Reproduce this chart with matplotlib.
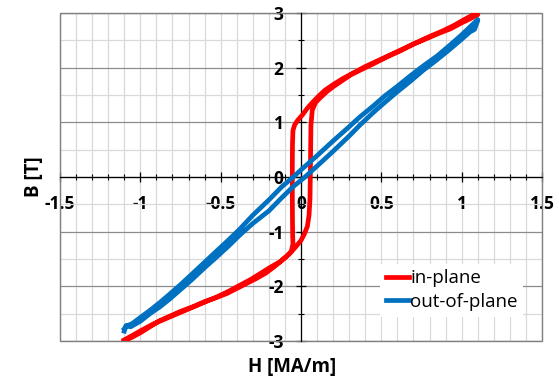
import matplotlib as mpl
mpl.use('Agg')
import matplotlib.pyplot as plt
from matplotlib.patches import Rectangle
from matplotlib.ticker import MultipleLocator, FuncFormatter

plt.rcParams['font.family'] = ['Open Sans', 'DejaVu Sans']
plt.rcParams['font.weight'] = 'bold'
plt.rcParams['axes.unicode_minus'] = False

RED = '#ff0000'
BLUE = '#0070c0'

# in-plane loop, H rising
inplane_up_h = [-1.10, -1.05, -1.00, -0.94, -0.88, -0.82, -0.75, -0.67, -0.60,
                -0.53, -0.46, -0.40, -0.34, -0.28, -0.22, -0.17, -0.12, -0.07,
                -0.03, 0.00, 0.02, 0.04, 0.05, 0.056, 0.058, 0.06, 0.062, 0.07,
                0.09, 0.12, 0.16, 0.20, 0.25, 0.31, 0.38, 0.45, 0.53, 0.62,
                0.70, 0.78, 0.86, 0.93, 1.00, 1.05, 1.10]
inplane_up_b = [-3.00, -2.93, -2.85, -2.74, -2.63, -2.55, -2.46, -2.37, -2.28,
                -2.21, -2.13, -2.04, -1.95, -1.86, -1.76, -1.65, -1.53, -1.40,
                -1.27, -1.16, -1.05, -0.90, -0.70, -0.40, 0.00, 0.50, 0.95, 1.22,
                1.36, 1.45, 1.56, 1.65, 1.75, 1.87, 1.97, 2.07, 2.19, 2.31,
                2.43, 2.53, 2.63, 2.71, 2.82, 2.89, 2.97]
# in-plane loop, H falling
inplane_down_h = [1.10, 1.06, 1.01, 0.95, 0.88, 0.80, 0.72, 0.64, 0.56, 0.48,
                  0.40, 0.33, 0.26, 0.20, 0.15, 0.11, 0.07, 0.04, 0.01, -0.02,
                  -0.04, -0.05, -0.053, -0.054, -0.054, -0.053, -0.052, -0.05,
                  -0.06, -0.09, -0.13, -0.19, -0.25, -0.31, -0.38, -0.45, -0.52,
                  -0.60, -0.68, -0.76, -0.84, -0.92, -0.99, -1.05, -1.10]
inplane_down_b = [3.00, 2.95, 2.87, 2.77, 2.67, 2.57, 2.46, 2.35, 2.24, 2.13,
                  2.02, 1.91, 1.80, 1.69, 1.59, 1.48, 1.36, 1.26, 1.14, 1.04,
                  0.95, 0.85, 0.60, 0.20, -0.30, -0.80, -1.05, -1.22, -1.36,
                  -1.45, -1.55, -1.65, -1.76, -1.87, -1.98, -2.09, -2.19, -2.29,
                  -2.39, -2.49, -2.59, -2.69, -2.80, -2.90, -2.98]

# out-of-plane loop, H rising
outplane_up_h = [-1.10, -1.09, -1.06, -1.00, -0.94, -0.88, -0.82, -0.75, -0.68,
                 -0.60, -0.52, -0.45, -0.38, -0.30, -0.20, -0.12, -0.05, 0.025,
                 0.10, 0.20, 0.30, 0.367, 0.45, 0.52, 0.60, 0.68, 0.76, 0.84,
                 0.92, 1.00, 1.05, 1.08, 1.10]
outplane_up_b = [-2.82, -2.72, -2.74, -2.64, -2.50, -2.38, -2.24, -2.06, -1.88,
                 -1.66, -1.45, -1.26, -1.06, -0.85, -0.62, -0.38, -0.18, 0.00,
                 0.20, 0.47, 0.75, 0.95, 1.18, 1.36, 1.56, 1.75, 1.95, 2.13,
                 2.32, 2.52, 2.65, 2.70, 2.86]
# out-of-plane loop, H falling
outplane_down_h = [1.10, 1.05, 1.00, 0.93, 0.85, 0.76, 0.68, 0.60, 0.52, 0.45,
                   0.367, 0.30, 0.20, 0.10, 0.00, -0.048, -0.12, -0.20, -0.30,
                   -0.38, -0.45, -0.52, -0.60, -0.68, -0.75, -0.82, -0.88,
                   -0.94, -1.00, -1.05, -1.08, -1.10]
outplane_down_b = [2.88, 2.74, 2.60, 2.42, 2.22, 2.03, 1.85, 1.66, 1.48, 1.30,
                   1.10, 0.92, 0.66, 0.39, 0.13, 0.00, -0.18, -0.42, -0.70,
                   -0.95, -1.15, -1.34, -1.56, -1.78, -1.97, -2.15, -2.30,
                   -2.44, -2.57, -2.68, -2.72, -2.78]

x_ticks = [-1.5, -1, -0.5, 0, 0.5, 1, 1.5]
y_ticks = [-3, -2, -1, 0, 1, 2, 3]

fig = plt.figure(figsize=(5.59, 3.79), dpi=100)
ax = fig.add_axes([0.1073, 0.1003, 0.8623, 0.8654])

ax.set_xlim(x_ticks[0], x_ticks[-1])
ax.set_ylim(y_ticks[0], y_ticks[-1])
ax.set_xticks(x_ticks)
ax.set_yticks(y_ticks)
ax.xaxis.set_minor_locator(MultipleLocator(0.1))
ax.yaxis.set_minor_locator(MultipleLocator(0.5))
ax.xaxis.set_major_formatter(FuncFormatter(lambda v, p: '%g' % v))
ax.yaxis.set_major_formatter(FuncFormatter(lambda v, p: '%g' % v))

# grid: light verticals every 0.1, darker horizontals on integers
ax.grid(True, axis='x', which='both', color='#d9d9d9', lw=0.9)
ax.grid(True, axis='y', which='minor', color='#d9d9d9', lw=0.9)
ax.grid(True, axis='y', which='major', color='#8c8c8c', lw=0.9)
ax.set_axisbelow(True)

# axes cross at the origin
for side in ('top', 'right'):
    ax.spines[side].set_visible(False)
for side in ('left', 'bottom'):
    ax.spines[side].set_position(('data', 0))
    ax.spines[side].set_color('#000000')
    ax.spines[side].set_linewidth(0.9)
ax.add_patch(Rectangle((0, 0), 1, 1, transform=ax.transAxes, fill=False,
                       edgecolor='#7f7f7f', lw=1.0, zorder=2.4, clip_on=False))

ax.tick_params(which='major', direction='inout', length=7, width=0.9,
               labelsize=12.5)
ax.tick_params(which='minor', direction='inout', length=5, width=0.8)
ax.tick_params(axis='x', which='major', pad=9.5)
ax.tick_params(axis='y', which='major', pad=9.0)

ax.plot(inplane_up_h + inplane_down_h, inplane_up_b + inplane_down_b,
        color=RED, lw=3.4, zorder=3, label='in-plane',
        solid_joinstyle='round')
ax.plot(outplane_up_h + outplane_down_h, outplane_up_b + outplane_down_b,
        color=BLUE, lw=3.4, zorder=3, label='out-of-plane',
        solid_joinstyle='round')

fig.text(0.523, 0.032, 'H [MA/m]', ha='center', va='center', fontsize=13.5)
fig.text(0.061, 0.533, 'B [T]', ha='center', va='center', rotation=90,
         fontsize=13.5)

leg = ax.legend(loc='center', bbox_to_anchor=(0.813, 0.155),
                prop={'size': 13.5, 'weight': 'normal'},
                frameon=True, fancybox=False, framealpha=1, edgecolor='none',
                handlelength=1.25, handletextpad=0.05, borderpad=0.3,
                labelspacing=0.3, borderaxespad=0)
leg.get_frame().set_facecolor('white')

fig.savefig('out.png', dpi=100)
